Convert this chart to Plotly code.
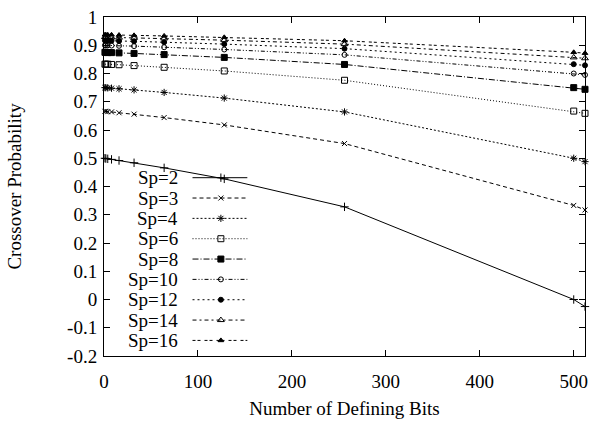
import plotly.graph_objects as go

# Number of defining bits sampled along the x axis
bits = [1, 2, 4, 8, 16, 32, 64, 128, 256, 500, 512]

# Crossover probability for each population size (Sp)
sp_labels = ["Sp=2", "Sp=3", "Sp=4", "Sp=6", "Sp=8", "Sp=10", "Sp=12", "Sp=14", "Sp=16"]
p_sp2 = [0.500, 0.499, 0.498, 0.496, 0.492, 0.484, 0.466, 0.427, 0.328, 0.000, -0.025]
p_sp3 = [0.666, 0.666, 0.665, 0.664, 0.661, 0.656, 0.644, 0.618, 0.552, 0.333, 0.317]
p_sp4 = [0.750, 0.750, 0.749, 0.748, 0.746, 0.742, 0.733, 0.713, 0.664, 0.500, 0.488]
p_sp6 = [0.833, 0.833, 0.833, 0.832, 0.831, 0.828, 0.822, 0.809, 0.776, 0.667, 0.659]
p_sp8 = [0.875, 0.875, 0.874, 0.874, 0.873, 0.871, 0.867, 0.857, 0.832, 0.750, 0.744]
p_sp10 = [0.900, 0.900, 0.900, 0.899, 0.898, 0.897, 0.893, 0.885, 0.866, 0.800, 0.795]
p_sp12 = [0.917, 0.917, 0.916, 0.916, 0.915, 0.914, 0.911, 0.904, 0.888, 0.833, 0.829]
p_sp14 = [0.929, 0.929, 0.928, 0.928, 0.927, 0.926, 0.924, 0.918, 0.904, 0.857, 0.854]
p_sp16 = [0.937, 0.937, 0.937, 0.937, 0.936, 0.935, 0.933, 0.928, 0.916, 0.875, 0.872]
series = [p_sp2, p_sp3, p_sp4, p_sp6, p_sp8, p_sp10, p_sp12, p_sp14, p_sp16]

x_ticks = [0, 100, 200, 300, 400, 500]
y_ticks = [-0.2, -0.1, 0, 0.1, 0.2, 0.3, 0.4, 0.5, 0.6, 0.7, 0.8, 0.9, 1]

# gnuplot-like line styles and point types
styles = [
    dict(dash="solid", symbol="cross-thin", size=6),
    dict(dash="4px,3px", symbol="x-thin", size=5),
    dict(dash="2px,2px", symbol="asterisk", size=6),
    dict(dash="1px,2px", symbol="square-open", size=6),
    dict(dash="6px,2px,1px,2px", symbol="square", size=6),
    dict(dash="4px,2px,1px,2px,1px,2px", symbol="circle-open", size=5),
    dict(dash="2px,3px", symbol="circle", size=5),
    dict(dash="4px,3px,2px,3px", symbol="triangle-up-open", size=6),
    dict(dash="3px,2px,3px,4px", symbol="triangle-up", size=5),
]

FONT = "Liberation Serif"
FS = 19
fig = go.Figure()

for vals, st in zip(series, styles):
    fig.add_trace(go.Scatter(
        x=bits, y=vals, mode="lines+markers", showlegend=False, cliponaxis=False,
        line=dict(color="black", width=1, dash=st["dash"]),
        marker=dict(symbol=st["symbol"], size=st["size"], color="black",
                    line=dict(color="black", width=1)),
    ))

# Key drawn inside the plot area on an overlay axis spanning [0, 1]
key_text_x = 0.159
key_line = [0.184, 0.298]
key_mark = 0.243
key_top = 0.526
key_step = 0.060
for i, (lab, st) in enumerate(zip(sp_labels, styles)):
    yk = key_top - i * key_step
    fig.add_trace(go.Scatter(
        x=key_line, y=[yk, yk], mode="lines", xaxis="x2", yaxis="y2",
        showlegend=False, hoverinfo="skip",
        line=dict(color="black", width=1, dash=st["dash"]),
    ))
    fig.add_trace(go.Scatter(
        x=[key_mark], y=[yk], mode="markers", xaxis="x2", yaxis="y2",
        showlegend=False, hoverinfo="skip",
        marker=dict(symbol=st["symbol"], size=st["size"], color="black",
                    line=dict(color="black", width=1)),
    ))
    fig.add_annotation(x=key_text_x, y=yk, xref="x2", yref="y2", text=lab,
                       showarrow=False, xanchor="right", yanchor="middle",
                       font=dict(family=FONT, size=FS, color="black"))

axis_common = dict(showline=True, linecolor="black", linewidth=1, mirror="allticks",
                   ticks="inside", ticklen=6, tickcolor="black", showgrid=False,
                   zeroline=False, tickfont=dict(family=FONT, size=FS, color="black"))

fig.update_layout(
    width=595, height=425,
    margin=dict(l=104, r=7, t=14, b=69),
    paper_bgcolor="white", plot_bgcolor="white",
    xaxis=dict(range=[0, 512], tickvals=x_ticks, ticklabelstandoff=8,
               title=dict(text="Number of Defining Bits", standoff=10,
                          font=dict(family=FONT, size=FS, color="black")),
               **axis_common),
    yaxis=dict(range=[-0.2, 1], tickvals=y_ticks, ticktext=[f"{v:g}" for v in y_ticks],
               ticklabelstandoff=2,
               title=dict(text="Crossover Probability", standoff=40,
                          font=dict(family=FONT, size=FS, color="black")),
               **axis_common),
    xaxis2=dict(range=[0, 1], overlaying="x", visible=False, fixedrange=True),
    yaxis2=dict(range=[0, 1], overlaying="y", visible=False, fixedrange=True),
)

fig.write_html("out.html")
